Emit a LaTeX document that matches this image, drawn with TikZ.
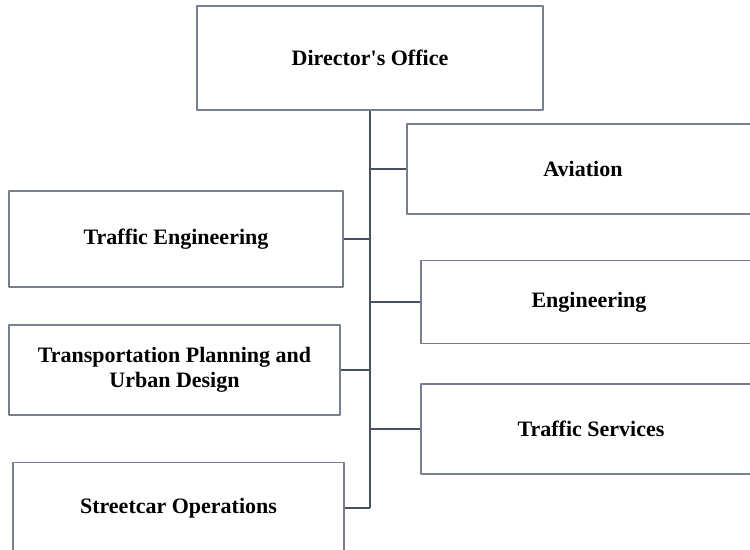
\documentclass[tikz,border=0pt]{standalone}
\usepackage{fontspec}
\setmainfont{Liberation Serif}
\definecolor{boxline}{RGB}{118,128,142}
\definecolor{linkline}{RGB}{70,82,98}
\begin{document}
\begin{tikzpicture}[x=0.75pt, y=-0.75pt, line join=round,
	unit/.style={draw=boxline, line width=1.1pt, inner sep=0pt, align=center,
		font=\bfseries\fontsize{16.5}{19}\selectfont},
	link/.style={draw=linkline, line width=1.1pt}]
	\useasboundingbox (0,0) rectangle (750,550);
	\clip (0,0) rectangle (750,550);
	\node[unit, minimum width=259.5pt, minimum height=78pt] (dir) at (370,58) {Director\textquotesingle s Office};
	\node[unit, minimum width=264pt, minimum height=67.5pt] (avi) at (583,169) {Aviation};
	\node[unit, minimum width=250.5pt, minimum height=72pt] (te) at (176,239) {Traffic Engineering};
	\node[unit, minimum width=252pt, minimum height=62pt] (eng) at (589,302) {Engineering};
	\node[unit, minimum width=248.25pt, minimum height=67.5pt] (tpud) at (174.5,370) {Transportation Planning and\\Urban Design};
	\node[unit, minimum width=255pt, minimum height=67.5pt] (ts) at (591,429) {Traffic Services};
	\node[unit, minimum width=248.25pt, minimum height=68pt] (sc) at (178.5,508) {Streetcar Operations};
	% trunk and branches
	\draw[link] (dir.south) -- (dir.south |- sc.east);
	\foreach \n/\s in {avi/west, eng/west, ts/west, te/east, tpud/east, sc/east}
	\draw[link] (dir.south |- \n.\s) -- (\n.\s);
\end{tikzpicture}
\end{document}
